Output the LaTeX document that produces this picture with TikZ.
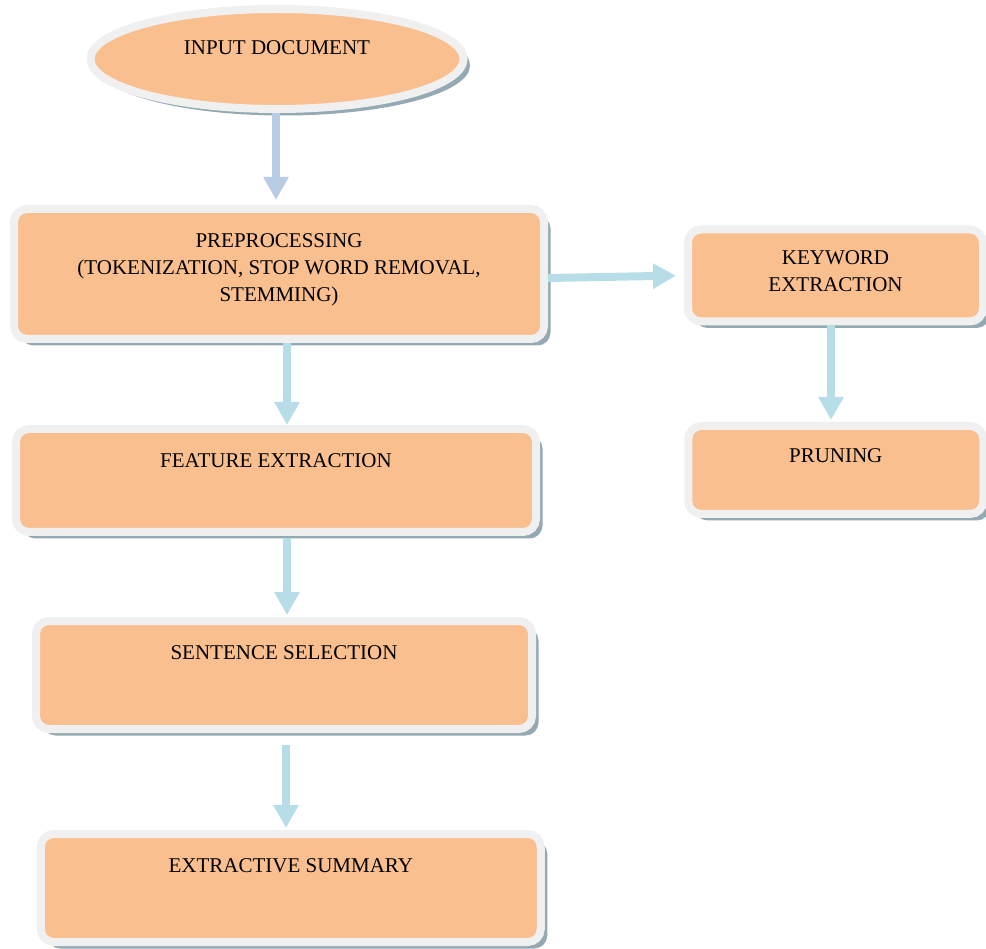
\documentclass[tikz,border=0pt]{standalone}
\usepackage{fontspec}
\setmainfont{Liberation Serif}
\usetikzlibrary{shadows,arrows.meta,shapes.geometric,calc}
\definecolor{boxfill}{HTML}{F9BF8F}
\definecolor{ringc}{HTML}{F0F0F0}
\definecolor{shc}{HTML}{93AAB3}
\definecolor{arrA}{HTML}{B8CCE4}
\definecolor{arrB}{HTML}{B7DDE8}
\tikzset{
  shapebase/.style={draw=ringc, line width=8pt, fill=boxfill,
    drop shadow={shadow xshift=6.5pt, shadow yshift=-6.5pt, fill=shc, opacity=1},
    inner sep=0pt},
  stepbox/.style={shapebase, rectangle, rounded corners=13pt},
  ovalbox/.style={shapebase, ellipse},
  lbl/.style={anchor=north, inner sep=0pt, align=center,
    font=\fontsize{21}{27}\selectfont},
  flow/.style={line width=8pt, color=arrB, -{Triangle[width=24pt,length=23pt]}},
  flowA/.style={flow, color=arrA},
}
\begin{document}
\begin{tikzpicture}[x=1pt,y=-1pt]
\useasboundingbox (0,0) rectangle (986,949);
% shapes
\node[ovalbox, minimum width=373pt, minimum height=100pt] (ell) at (277,59) {};
\node[stepbox, minimum width=530pt, minimum height=130pt] (pre) at (279,274) {};
\node[stepbox, minimum width=295pt, minimum height=92pt] (kw) at (835.5,275.5) {};
\node[stepbox, minimum width=520pt, minimum height=103pt] (feat) at (276,480.5) {};
\node[stepbox, minimum width=295pt, minimum height=88pt] (prun) at (835.75,470) {};
\node[stepbox, minimum width=496pt, minimum height=108pt] (sent) at (284,675) {};
\node[stepbox, minimum width=500pt, minimum height=108pt] (extr) at (290.75,888) {};
% labels
\node[lbl] (tell) at ([yshift=-35pt]ell.north) {INPUT DOCUMENT};
\node[lbl] (tpre) at ([yshift=-28pt]pre.north) {PREPROCESSING\\(TOKENIZATION, STOP WORD REMOVAL,\\STEMMING)};
\node[lbl] (tkw) at ([yshift=-25pt]kw.north) {KEYWORD\\EXTRACTION};
\node[lbl] (tfeat) at ([yshift=-28pt]feat.north) {FEATURE EXTRACTION};
\node[lbl] (tprun) at ([yshift=-26pt]prun.north) {PRUNING};
\node[lbl] (tsent) at ([yshift=-28pt]sent.north) {SENTENCE SELECTION};
\node[lbl] (textr) at ([yshift=-28pt]extr.north) {EXTRACTIVE SUMMARY};
% connectors
\draw[flowA, shorten >=5pt] ([xshift=-1pt]ell.south) -- ([xshift=-3pt]pre.north);
\draw[flow] ([xshift=8pt]pre.south) -- ([xshift=11pt]feat.north);
\draw[flow, shorten >=8pt] ([yshift=-4pt]pre.east) -- (kw.west);
\draw[flow, shorten >=2pt] ([xshift=-4.5pt]kw.south) -- ([xshift=-4.75pt]prun.north);
\draw[flow, shorten <=2pt, shorten >=2pt] ([xshift=11pt]feat.south) -- ([xshift=3pt]sent.north);
\draw[flow, shorten <=12pt, shorten >=2pt] ([xshift=2pt]sent.south) -- ([xshift=-4.75pt]extr.north);
\end{tikzpicture}
\end{document}
